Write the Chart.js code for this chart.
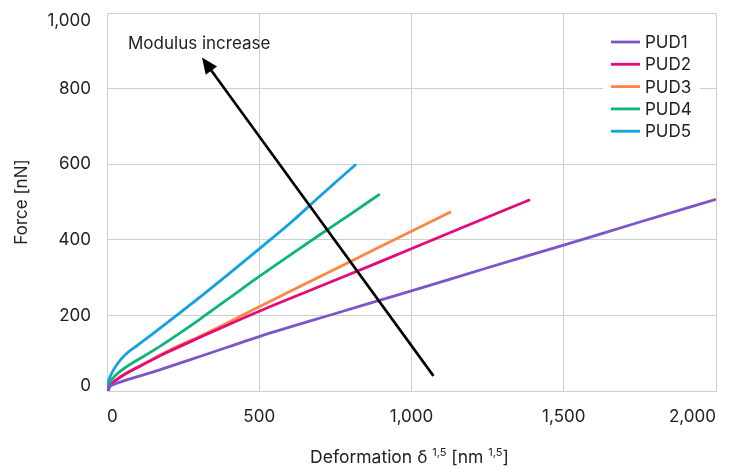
<!DOCTYPE html>
<html><head><meta charset="utf-8">
<script src="https://cdn.jsdelivr.net/npm/chart.js@4/dist/chart.umd.min.js"></script>
<style>html,body{margin:0;padding:0;background:#fff}</style>
</head><body>
<canvas id="c" width="729" height="468"></canvas>
<script>
// ---- data ----
const seriesNames = ['PUD1', 'PUD2', 'PUD3', 'PUD4', 'PUD5'];
const pud1Deformation = [0, 5, 15, 30, 60, 100, 150, 200, 300, 400, 500, 750, 1000, 1250, 1500, 1750, 2000];
const pud1Force       = [0, 9, 15, 20, 28, 38, 50, 63, 90, 117, 144, 205, 265, 326, 386, 447, 507];
const pud2Deformation = [3, 8, 15, 30, 60, 100, 150, 200, 300, 400, 500, 700, 900, 1100, 1389];
const pud2Force       = [0, 10, 18, 29, 45, 62, 83, 103, 140, 176, 211, 277, 343, 410, 506];
const pud3Deformation = [3, 8, 15, 30, 60, 100, 150, 200, 300, 400, 500, 700, 900, 1130];
const pud3Force       = [0, 10, 18, 30, 46, 63, 85, 106, 143, 182, 223, 303, 383, 474];
const pud4Deformation = [0, 5, 15, 30, 60, 100, 150, 200, 300, 400, 500, 600, 700, 800, 896];
const pud4Force       = [0, 15, 29, 43, 62, 82, 106, 132, 187, 245, 303, 359, 414, 468, 521];
const pud5Deformation = [0, 3, 10, 20, 40, 60, 100, 150, 200, 300, 400, 500, 600, 700, 818];
const pud5Force       = [0, 18, 37, 54, 78, 96, 121, 151, 182, 245, 310, 376, 443, 516, 600];
const seriesColors = ['#7c56c9', '#e5097c', '#ff8545', '#0db47d', '#12a2de'];
const xTickValues = [0, 500, 1000, 1500, 2000];
const yTickValues = [0, 200, 400, 600, 800, 1000];
const annotationText = 'Modulus increase';
const annotationTextPos = [69, 906];
const arrowFrom = [1072, 40];
const arrowTo = [312, 882];
const xTitleParts = [['Deformation δ ', false], ['1,5', true], [' [nm ', false], ['1,5', true], [']', false]];
const yTitle = 'Force [nN]';

const FONT = 'Inter, "Noto Sans", sans-serif';
const TXT = '#222222';
const GRID = '#cfcfcf';

const allX = [pud1Deformation, pud2Deformation, pud3Deformation, pud4Deformation, pud5Deformation];
const allY = [pud1Force, pud2Force, pud3Force, pud4Force, pud5Force];
const datasets = seriesNames.map((n, i) => ({
  label: n,
  data: allX[i].map((x, j) => ({x: x, y: allY[i][j]})),
  borderColor: seriesColors[i],
  backgroundColor: seriesColors[i],
  borderWidth: 2.8,
  pointRadius: 0,
  cubicInterpolationMode: 'monotone',
  fill: false
}));

const fmt = v => v.toLocaleString('en-US');

const overlay = {
  id: 'overlay',
  beforeDraw(chart) {
    // keep the outermost y labels inside the plot box (as in the reference)
    const ys = chart.scales.y;
    const items = ys.getLabelItems(chart.chartArea);
    if (items && items.length) {
      items.forEach(it => {
        if (it.label === '0') it.options.translation[1] -= 5.5;
        if (it.label === '1,000') it.options.translation[1] += 8;
      });
    }
  },
  afterDatasetsDraw(chart) {
    const ctx = chart.ctx, xs = chart.scales.x, ys = chart.scales.y;
    ctx.save();
    // arrow
    const x1 = xs.getPixelForValue(arrowFrom[0]), y1 = ys.getPixelForValue(arrowFrom[1]);
    const x2 = xs.getPixelForValue(arrowTo[0]), y2 = ys.getPixelForValue(arrowTo[1]);
    const ang = Math.atan2(y2 - y1, x2 - x1);
    const headLen = 16, headW = 7;
    const bx = x2 - headLen * Math.cos(ang), by = y2 - headLen * Math.sin(ang);
    ctx.strokeStyle = '#000'; ctx.lineWidth = 2.6;
    ctx.beginPath(); ctx.moveTo(x1, y1); ctx.lineTo(bx + 2 * Math.cos(ang), by + 2 * Math.sin(ang)); ctx.stroke();
    ctx.fillStyle = '#000';
    ctx.beginPath();
    ctx.moveTo(x2, y2);
    ctx.lineTo(bx + headW * Math.sin(ang), by - headW * Math.cos(ang));
    ctx.lineTo(bx - headW * Math.sin(ang), by + headW * Math.cos(ang));
    ctx.closePath(); ctx.fill();
    // annotation text
    ctx.fillStyle = TXT; ctx.font = '17px ' + FONT;
    ctx.textAlign = 'left'; ctx.textBaseline = 'alphabetic';
    ctx.fillText(annotationText, xs.getPixelForValue(annotationTextPos[0]), ys.getPixelForValue(annotationTextPos[1]));
    // legend
    const lx = 603, ly = 28;
    ctx.fillStyle = '#fff'; ctx.fillRect(lx, ly, 97, 117);
    seriesNames.forEach((n, i) => {
      const cy = 42 + i * 22.3;
      ctx.strokeStyle = seriesColors[i]; ctx.lineWidth = 2.8;
      ctx.beginPath(); ctx.moveTo(611, cy); ctx.lineTo(640, cy); ctx.stroke();
      ctx.fillStyle = TXT; ctx.font = '17px ' + FONT; ctx.textBaseline = 'middle';
      ctx.fillText(n, 645, cy + 1);
    });
    // x title with superscripts
    const big = '17.5px ' + FONT, small = '11px ' + FONT;
    let total = 0;
    xTitleParts.forEach(p => { ctx.font = p[1] ? small : big; total += ctx.measureText(p[0]).width; });
    let cx = (xs.left + xs.right) / 2 - total / 2 - 2;
    ctx.fillStyle = TXT; ctx.textBaseline = 'alphabetic';
    xTitleParts.forEach(p => {
      ctx.font = p[1] ? small : big;
      ctx.fillText(p[0], cx, p[1] ? 456 : 463);
      cx += ctx.measureText(p[0]).width;
    });
    ctx.restore();
  }
};

new Chart(document.getElementById('c'), {
  type: 'line',
  data: { datasets },
  plugins: [overlay],
  options: {
    responsive: false,
    devicePixelRatio: 1,
    animation: false,
    layout: { padding: { left: 0, right: 13, top: 13, bottom: 0 } },
    plugins: { legend: { display: false }, tooltip: { enabled: false } },
    scales: {
      x: {
        type: 'linear', min: 0, max: 2000,
        afterBuildTicks: s => { s.ticks = xTickValues.map(v => ({value: v})); },
        afterFit: s => { s.height = 77; s.paddingLeft = 0; s.paddingRight = 0; },
        grid: { color: GRID, lineWidth: 1, drawTicks: false },
        border: { color: GRID },
        ticks: { align: 'inner', padding: 16, color: TXT, font: { family: FONT, size: 17 }, maxRotation: 0, callback: v => fmt(v) }
      },
      y: {
        type: 'linear', min: 0, max: 1000,
        afterBuildTicks: s => { s.ticks = yTickValues.map(v => ({value: v})); },
        afterFit: s => { s.width = 107; s.paddingTop = 0; s.paddingBottom = 0; },
        grid: { color: GRID, lineWidth: 1, drawTicks: false },
        border: { color: GRID },
        title: { display: true, text: yTitle, color: TXT, font: { family: FONT, size: 17 }, padding: { top: 12, bottom: 0 } },
        ticks: { padding: 16, color: TXT, font: { family: FONT, size: 17 }, callback: v => fmt(v) }
      }
    }
  }
});
</script>
</body></html>
